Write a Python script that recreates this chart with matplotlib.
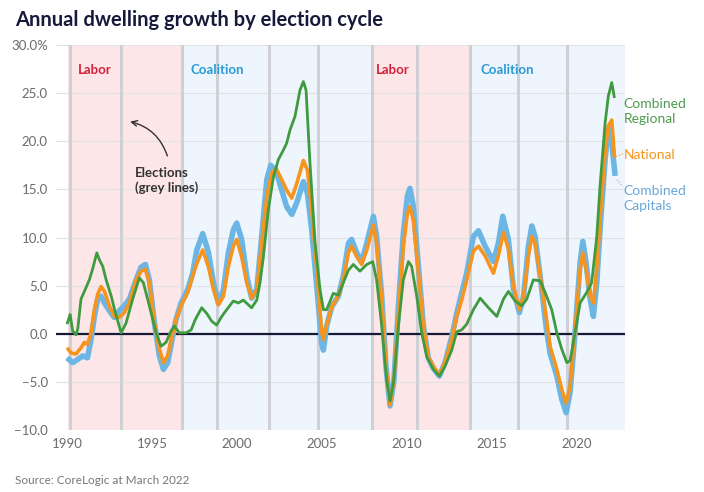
import numpy as np
import matplotlib
matplotlib.use("Agg")
import matplotlib.pyplot as plt

plt.rcParams['font.family'] = ['Lato', 'DejaVu Sans']

# ---------------------------------------------------
# DATA
# ---------------------------------------------------
regional_years = [
    1990.0, 1990.18, 1990.33, 1990.53, 1990.63, 1990.82, 1991.02, 1991.31, 1991.5, 1991.75,
    1991.9, 1992.1, 1992.3, 1992.6, 1992.84, 1993.18, 1993.47, 1993.86, 1994.25, 1994.49,
    1994.84, 1995.24, 1995.53, 1995.82, 1996.12, 1996.31, 1996.6, 1997.0, 1997.3, 1997.55,
    1997.92, 1998.22, 1998.51, 1998.8, 1999.1, 1999.39, 1999.78, 2000.08, 2000.37, 2000.67,
    2000.86, 2001.16, 2001.35, 2001.55, 2001.84, 2002.14, 2002.43, 2002.73, 2002.92, 2003.12,
    2003.41, 2003.7, 2003.9, 2004.06, 2004.29, 2004.59, 2004.88, 2005.08, 2005.27, 2005.66,
    2005.96, 2006.25, 2006.55, 2006.84, 2007.23, 2007.63, 2007.98, 2008.21, 2008.51, 2008.8,
    2009.0, 2009.2, 2009.49, 2009.78, 2010.08, 2010.27, 2010.57, 2010.86, 2011.16, 2011.55,
    2011.9, 2012.23, 2012.63, 2012.92, 2013.21, 2013.51, 2013.9, 2014.3, 2014.79, 2015.28,
    2015.67, 2015.96, 2016.36, 2016.75, 2017.04, 2017.43, 2017.83, 2018.12, 2018.51, 2018.81,
    2019.1, 2019.4, 2019.59, 2019.88, 2020.18, 2020.57, 2020.86, 2021.16, 2021.35, 2021.65,
    2021.84, 2022.04, 2022.2,
]
regional_vals = [
    1.0, 2.0, 0.3, -0.1, 0.5, 3.6, 4.4, 5.6, 6.7, 8.4,
    7.7, 7.0, 5.6, 3.9, 2.2, 0.1, 1.1, 3.6, 5.8, 5.3,
    2.9, 0.1, -1.3, -0.9, 0.3, 0.8, 0.1, 0.1, 0.4, 1.5,
    2.7, 2.1, 1.3, 0.9, 1.8, 2.5, 3.4, 3.2, 3.5, 3.0,
    2.7, 3.5, 5.3, 8.0, 12.9, 16.3, 18.1, 19.1, 19.8, 21.2,
    22.6, 25.3, 26.2, 25.3, 17.7, 9.4, 4.6, 2.5, 2.5, 4.2,
    4.0, 5.3, 6.6, 7.2, 6.5, 7.2, 7.5, 5.6, 0.8, -4.8,
    -7.0, -5.1, 0.8, 5.6, 7.5, 7.0, 3.9, 0.1, -2.4, -3.7,
    -4.4, -3.4, -1.7, 0.2, 0.4, 1.0, 2.5, 3.7, 2.7, 1.8,
    3.6, 4.4, 3.4, 2.9, 3.6, 5.6, 5.5, 4.3, 2.5, 0.1,
    -1.6, -3.0, -2.8, 0.1, 3.2, 4.3, 5.3, 10.1, 15.3, 21.9,
    24.7, 26.1, 24.5,
]

national_years = [
    1990.0, 1990.24, 1990.53, 1990.82, 1991.02, 1991.2, 1991.41, 1991.61, 1991.8, 1992.0,
    1992.2, 1992.49, 1992.78, 1993.08, 1993.37, 1993.67, 1994.06, 1994.35, 1994.61, 1994.84,
    1995.14, 1995.43, 1995.67, 1995.92, 1996.18, 1996.41, 1996.71, 1997.1, 1997.39, 1997.63,
    1997.98, 1998.31, 1998.61, 1998.9, 1999.2, 1999.49, 1999.78, 1999.98, 2000.27, 2000.57,
    2000.86, 2001.16, 2001.45, 2001.75, 2002.04, 2002.29, 2002.63, 2002.92, 2003.22, 2003.51,
    2003.9, 2004.14, 2004.39, 2004.69, 2004.98, 2005.08, 2005.27, 2005.57, 2005.96, 2006.25,
    2006.55, 2006.74, 2007.04, 2007.33, 2007.63, 2008.02, 2008.21, 2008.51, 2008.76, 2009.0,
    2009.23, 2009.49, 2009.78, 2010.02, 2010.17, 2010.37, 2010.67, 2010.96, 2011.25, 2011.55,
    2011.9, 2012.23, 2012.63, 2012.92, 2013.21, 2013.51, 2013.9, 2014.2, 2014.59, 2015.08,
    2015.37, 2015.67, 2015.96, 2016.26, 2016.61, 2016.85, 2017.14, 2017.34, 2017.53, 2017.83,
    2018.18, 2018.41, 2018.81, 2019.1, 2019.36, 2019.59, 2019.88, 2020.18, 2020.34, 2020.53,
    2020.77, 2020.96, 2021.16, 2021.35, 2021.65, 2021.84, 2022.04, 2022.2,
]
national_vals = [
    -1.45, -2.0, -2.1, -1.45, -0.9, -1.1, 0.1, 2.5, 4.1, 4.9,
    4.4, 2.9, 1.8, 1.7, 2.2, 3.2, 5.6, 6.5, 6.7, 5.3,
    1.1, -1.6, -3.0, -2.3, -0.2, 1.5, 2.9, 4.3, 6.0, 7.3,
    8.7, 7.0, 4.6, 3.0, 3.9, 7.0, 9.1, 9.8, 8.0, 5.3,
    3.7, 4.6, 9.4, 14.3, 16.7, 17.2, 16.0, 14.9, 14.1, 15.6,
    18.0, 17.0, 12.9, 6.6, 0.1, -0.6, 0.9, 2.8, 3.9, 5.6,
    8.4, 9.1, 8.0, 7.2, 8.7, 11.3, 9.4, 3.5, -3.4, -7.4,
    -4.8, 2.1, 9.1, 12.5, 13.2, 11.8, 6.3, 0.8, -2.4, -3.4,
    -4.3, -3.0, -0.6, 1.8, 3.5, 5.6, 8.6, 9.1, 8.1, 6.3,
    8.1, 10.5, 8.8, 4.9, 2.5, 3.9, 8.1, 10.1, 9.4, 6.0,
    1.8, -1.3, -3.7, -5.8, -7.2, -5.4, 0.4, 6.7, 8.4, 6.7,
    3.9, 3.2, 6.7, 11.9, 18.8, 21.6, 22.2, 18.3,
]

capitals_years = [
    1990.0, 1990.33, 1990.6, 1990.92, 1991.2, 1991.41, 1991.61, 1991.8, 1992.0, 1992.2,
    1992.49, 1992.78, 1993.08, 1993.37, 1993.67, 1994.06, 1994.35, 1994.61, 1994.84, 1995.14,
    1995.43, 1995.67, 1995.92, 1996.18, 1996.41, 1996.71, 1997.1, 1997.39, 1997.63, 1997.98,
    1998.31, 1998.61, 1998.9, 1999.2, 1999.49, 1999.78, 1999.98, 2000.27, 2000.57, 2000.86,
    2001.16, 2001.45, 2001.75, 2001.98, 2002.29, 2002.63, 2002.92, 2003.22, 2003.51, 2003.9,
    2004.14, 2004.39, 2004.69, 2004.98, 2005.08, 2005.27, 2005.57, 2005.96, 2006.25, 2006.55,
    2006.74, 2007.04, 2007.33, 2007.63, 2008.02, 2008.21, 2008.51, 2008.76, 2009.0, 2009.23,
    2009.49, 2009.78, 2010.02, 2010.17, 2010.37, 2010.67, 2010.96, 2011.25, 2011.55, 2011.9,
    2012.23, 2012.63, 2012.92, 2013.21, 2013.51, 2013.9, 2014.2, 2014.59, 2015.08, 2015.37,
    2015.63, 2015.96, 2016.26, 2016.61, 2016.85, 2017.14, 2017.34, 2017.53, 2017.83, 2018.18,
    2018.41, 2018.81, 2019.1, 2019.36, 2019.59, 2019.88, 2020.18, 2020.34, 2020.53, 2020.77,
    2020.96, 2021.16, 2021.35, 2021.65, 2021.84, 2021.98, 2022.1, 2022.24,
]
capitals_vals = [
    -2.5, -3.0, -2.7, -2.3, -2.5, -0.6, 1.8, 3.6, 3.9, 3.2,
    2.4, 1.7, 2.4, 2.9, 3.6, 5.6, 6.9, 7.2, 5.6, 1.1,
    -2.3, -3.7, -3.0, -0.6, 1.5, 3.2, 4.6, 6.3, 8.7, 10.4,
    8.5, 5.3, 3.2, 4.6, 8.4, 10.8, 11.5, 9.8, 6.0, 3.7,
    4.6, 10.1, 16.0, 17.5, 16.9, 14.9, 13.2, 12.4, 13.6, 15.8,
    14.6, 10.8, 4.9, -1.0, -1.7, 0.8, 2.8, 3.9, 6.0, 9.4,
    9.8, 8.4, 7.5, 9.4, 12.2, 10.1, 3.9, -3.4, -7.5, -4.8,
    2.8, 10.4, 14.3, 15.1, 13.2, 7.0, 0.8, -2.5, -3.6, -4.4,
    -3.0, -0.3, 2.1, 4.2, 6.3, 10.1, 10.7, 9.1, 7.5, 9.4,
    12.2, 9.8, 4.6, 2.2, 3.9, 9.1, 11.2, 10.1, 6.0, 0.7,
    -2.0, -4.4, -6.8, -8.2, -6.1, 0.1, 7.4, 9.6, 7.4, 3.6,
    1.8, 5.3, 10.8, 18.1, 21.2, 21.4, 18.8, 16.4,
]

# federal election dates (grey lines)
election_years = [1990.18, 1993.2, 1996.75, 1998.8, 2001.85, 2004.77, 2007.92, 2010.6, 2013.7, 2016.5, 2019.4]

# governments: (start, end, party)
gov_starts = [1990.05, 1996.75, 2007.92, 2013.7]
gov_ends = [1996.75, 2007.92, 2013.7, 2022.82]
gov_party = ['Labor', 'Coalition', 'Labor', 'Coalition']

# ---------------------------------------------------
# STYLE
# ---------------------------------------------------
BLUE = '#6cb6e6'
ORANGE = '#f7941d'
GREEN = '#3f9a40'
LABOR_BG = '#fce6e8'
COAL_BG = '#eef5fc'
LABOR_TXT = '#d3213c'
COAL_TXT = '#2a9ad6'
NAVY = '#141a38'
GREY_TXT = '#6b6b6b'

fig = plt.figure(figsize=(7.04, 4.92), dpi=100)
ax = fig.add_axes([56 / 704, 1 - 430 / 492, (625 - 56) / 704, 385 / 492])

ax.set_xlim(1989.35, 2022.82)
ax.set_ylim(-10, 30)

# government shading
for s, e, p in zip(gov_starts, gov_ends, gov_party):
    ax.axvspan(s, e, color=LABOR_BG if p == 'Labor' else COAL_BG, lw=0, zorder=0)

# grid
for v in np.arange(-10, 31, 5):
    ax.axhline(v, color='#e2e2e6', lw=0.8, zorder=1)

# election lines
for ey in election_years:
    ax.axvline(ey, color='#cfd0d6', lw=2.2, zorder=2)

# zero line
ax.axhline(0, color=NAVY, lw=1.6, zorder=3)

# series
ax.plot(capitals_years, capitals_vals, color=BLUE, lw=4.0, zorder=4,
        solid_joinstyle='round', solid_capstyle='butt')
ax.plot(national_years, national_vals, color=ORANGE, lw=2.6, zorder=5,
        solid_joinstyle='round', solid_capstyle='butt')
ax.plot(regional_years, regional_vals, color=GREEN, lw=2.0, zorder=6,
        solid_joinstyle='round', solid_capstyle='butt')

# party labels
party_label_x = [1990.65, 1997.24, 2008.18, 2014.3]
for x, p in zip(party_label_x, gov_party):
    ax.text(x, 27.4, p, fontsize=9.5, fontweight='bold', va='center', ha='left',
            color=LABOR_TXT if p == 'Labor' else COAL_TXT, zorder=7)

# elections annotation
ax.text(1994.0, 15.9, 'Elections\n(grey lines)', fontsize=9.5, fontweight='bold',
        color='#333333', va='center', ha='left', linespacing=1.25, zorder=7)
ax.annotate('', xy=(1993.55, 22.1), xytext=(1995.95, 18.2),
            arrowprops=dict(arrowstyle='->', color='#333333', lw=1.0,
                            connectionstyle='arc3,rad=0.3'), zorder=7)

# end labels
ax.text(2022.75, 23.1, 'Combined\nRegional', color='#4f9a4f', fontsize=10,
        va='center', ha='left', clip_on=False, linespacing=1.3)
ax.text(2022.75, 18.6, 'National', color=ORANGE, fontsize=10,
        va='center', ha='left', clip_on=False)
ax.text(2022.75, 14.1, 'Combined\nCapitals', color='#6aa6d8', fontsize=10,
        va='center', ha='left', clip_on=False, linespacing=1.3)
ax.plot([2022.3, 2022.7], [18.4, 18.7], color=ORANGE, lw=0.8, ls=':', clip_on=False)
ax.plot([2022.35, 2022.7], [16.0, 15.3], color=BLUE, lw=0.8, ls=':', clip_on=False)

# axes styling
for sp in ax.spines.values():
    sp.set_visible(False)
ax.set_xticks([1990, 1995, 2000, 2005, 2010, 2015, 2020])
ax.set_yticks(np.arange(-10, 31, 5))
ylabels = ['\u221210.0', '\u22125.0', '0.0', '5.0', '10.0', '15.0', '20.0', '25.0', '30.0%']
ax.set_yticklabels(ylabels)
ax.tick_params(axis='both', length=0, labelsize=9.5, labelcolor=GREY_TXT)
ax.tick_params(axis='y', pad=6)
ax.tick_params(axis='x', pad=6)

fig.text(15 / 704, 1 - 20 / 492, 'Annual dwelling growth by election cycle',
         fontsize=14.5, fontweight='bold', color='#16193a', va='center', ha='left')
fig.text(15 / 704, 1 - 480 / 492, 'Source: CoreLogic at March 2022',
         fontsize=8.5, color='#777777', va='center', ha='left')

fig.savefig('out.png', dpi=100)
